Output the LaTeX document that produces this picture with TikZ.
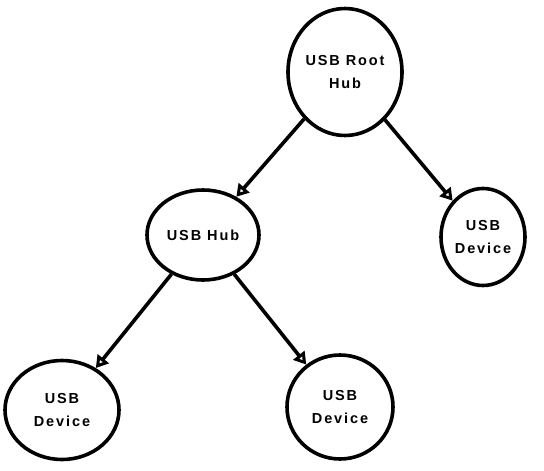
\documentclass[tikz,border=0pt]{standalone}
\usepackage{fontspec}
\newfontfamily\usbfont{Liberation Sans}[LetterSpace=13]
\usetikzlibrary{shapes.geometric,arrows.meta}
\begin{document}
\begin{tikzpicture}[x=1pt,y=-1pt,
    usbnode/.style={ellipse,draw,line width=3.6pt,inner sep=0pt,align=center,
      font=\usbfont\bfseries\fontsize{14.5}{22.5}\selectfont},
    usblink/.style={line width=3.6pt,-{Triangle[open,length=12pt,width=14pt]}}]
  \useasboundingbox (0,0) rectangle (544,471);

  % Noder
  \node[usbnode,minimum width=114pt,minimum height=127pt] (root) at (345,72) {USB Root\\Hub};
  \node[usbnode,minimum width=112pt,minimum height=90pt] (hub) at (203,235) {USB Hub};
  \node[usbnode,minimum width=84pt,minimum height=97pt] (devR) at (483,237) {USB\\Device};
  \node[usbnode,minimum width=114pt,minimum height=99pt] (devL) at (62,410) {USB\\Device};
  \node[usbnode,minimum width=106pt,minimum height=104pt] (devM) at (340,407) {USB\\Device};

  % Koblinger
  \draw[usblink] (root) -- (hub);
  \draw[usblink] (root) -- (devR);
  \draw[usblink] (hub) -- (devL);
  \draw[usblink] (hub) -- (devM);
\end{tikzpicture}
\end{document}
